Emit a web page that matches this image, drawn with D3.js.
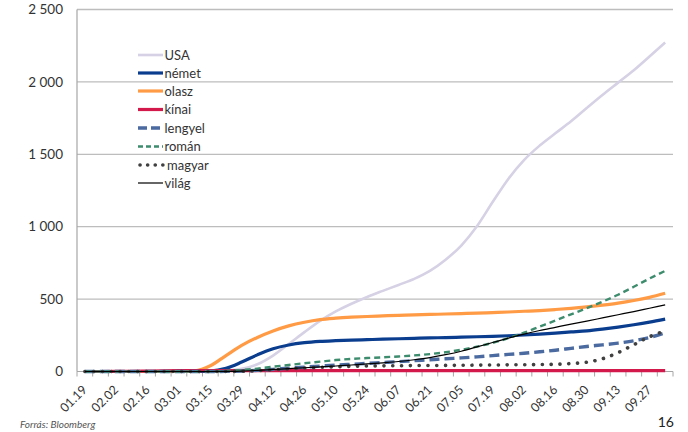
<!DOCTYPE html>
<html>
<head>
<meta charset="utf-8">
<script src="https://cdn.jsdelivr.net/npm/d3@7"></script>
<style>
  html, body { margin: 0; padding: 0; background: #fff; }
  svg { display: block; font-family: Lato, "Noto Sans", sans-serif; }
</style>
</head>
<body>
<svg id="chart" width="688" height="432"></svg>
<script>
// ---- data ----
const categories = ["01.19","01.26","02.02","02.09","02.16","02.23","03.01","03.08","03.15","03.22",
  "03.29","04.05","04.12","04.19","04.26","05.03","05.10","05.17","05.24","05.31",
  "06.07","06.14","06.21","06.28","07.05","07.12","07.19","07.26","08.02","08.09",
  "08.16","08.23","08.30","09.06","09.13","09.20","09.27","10.04"];
const xTickLabels = ["01.19","02.02","02.16","03.01","03.15","03.29","04.12","04.26","05.10","05.24",
  "06.07","06.21","07.05","07.19","08.02","08.16","08.30","09.13","09.27"];
const yTicks = [0, 500, 1000, 1500, 2000, 2500];

const usa     = [0,0,0,0,0,0,0,0,1,5,18,50,110,190,272,350,415,468,515,557,598,640,695,772,870,1003,1170,1330,1460,1560,1645,1728,1820,1910,1995,2080,2175,2272];
const nemet   = [0,0,0,0,0,0,0,0,3,22,65,115,157,183,199,208,213,217,220,223,226,229,232,234,237,240,243,247,252,258,265,273,281,293,307,323,341,362];
const olasz   = [0,0,0,0,0,0,0,5,40,110,180,235,280,315,340,358,368,375,380,384,388,391,394,397,400,403,407,411,416,421,428,436,446,458,472,490,512,540];
const kinai   = [0,0.1,0.5,1.5,3,4.5,5.5,5.8,5.8,5.9,5.9,5.9,5.9,6,6,6,6,6,6,6,6,6,6,6,6,6,6,6,6,6,6,6,6,6,6,6,6,6];
const lengyel = [0,0,0,0,0,0,0,0,0,1,3,8,15,23,30,37,44,50,56,62,68,75,81,88,94,101,110,118,126,136,147,160,173,184,196,212,235,268];
const roman   = [0,0,0,0,0,0,0,0,0,3,10,20,33,45,57,68,79,87,93,98,104,111,120,133,150,172,198,230,268,310,352,395,437,482,530,585,642,695];
const magyar  = [0,0,0,0,0,0,0,0,0,0,2,6,12,18,24,29,33,36,38,39,40,41,41,42,43,44,45,46,47,48,50,55,64,88,130,185,240,280];
const vilag   = [0,0,0,0,0,0,0,0,0,1,3,8,14,20,26,32,38,45,52,60,69,81,96,116,140,170,200,230,258,283,305,327,348,370,392,414,437,460];

const seriesNames = ["USA","német","olasz","kínai","lengyel","román","magyar","világ"];
const seriesData  = [usa, nemet, olasz, kinai, lengyel, roman, magyar, vilag];
const seriesStyle = [
  {color:"#d6d1e4", width:2.6, dash:null, cap:"butt"},
  {color:"#0b3d8f", width:3.2, dash:null, cap:"butt"},
  {color:"#ff9a45", width:3.2, dash:null, cap:"butt"},
  {color:"#d3194b", width:3.2, dash:null, cap:"butt"},
  {color:"#4a6aa0", width:3.4, dash:"10 5", cap:"butt"},
  {color:"#3d8c6e", width:2.4, dash:"6 4", cap:"butt"},
  {color:"#404040", width:3.6, dash:"0.1 8.7", cap:"round"},
  {color:"#000000", width:1.2, dash:null, cap:"butt"}
];

// ---- layout ----
const svg = d3.select("#chart");
svg.append("rect").attr("width",688).attr("height",432).attr("fill","#fff");

const mLeft = 77, mRight = 673, mTop = 9.5, mBottom = 371.5;
const x = d3.scaleBand().domain(categories).range([mLeft, mRight]).paddingInner(0).paddingOuter(0);
const y = d3.scaleLinear().domain([0, 2500]).range([mBottom, mTop]);
const fmt = d3.formatLocale({decimal: ",", thousands: "\u00a0", grouping: [3], currency: ["", ""]}).format(",d");

// gridlines
svg.append("g").selectAll("line").data(yTicks.filter(d => d > 0)).join("line")
  .attr("x1", mLeft).attr("x2", mRight)
  .attr("y1", d => y(d)).attr("y2", d => y(d))
  .attr("stroke", "#bdbdbd").attr("stroke-width", 1.3);

// y axis line
svg.append("line").attr("x1", mLeft).attr("x2", mLeft).attr("y1", mTop).attr("y2", mBottom)
  .attr("stroke", "#a6a6a6").attr("stroke-width", 1.2);

// y labels
svg.append("g").selectAll("text").data(yTicks).join("text")
  .attr("x", 63).attr("y", d => y(d)).attr("dy", "0.35em")
  .attr("text-anchor", "end").attr("font-size", 13.5).attr("fill", "#333")
  .text(d => fmt(d));

// x axis
svg.append("line").attr("x1", mLeft).attr("x2", mRight).attr("y1", mBottom).attr("y2", mBottom)
  .attr("stroke", "#a6a6a6").attr("stroke-width", 1.2);
const tickPos = categories.map(c => x(c)).concat([mRight]);
svg.append("g").selectAll("line").data(tickPos).join("line")
  .attr("x1", d => d).attr("x2", d => d).attr("y1", mBottom).attr("y2", mBottom + 5)
  .attr("stroke", "#a6a6a6").attr("stroke-width", 1);
svg.append("g").selectAll("text").data(xTickLabels).join("text")
  .attr("transform", d => `translate(${x(d) + x.bandwidth()/2 + 3},${mBottom + 19}) rotate(-45)`)
  .attr("text-anchor", "end").attr("font-size", 12.5).attr("fill", "#333")
  .text(d => d);

// lines
const line = d3.line()
  .x((d, i) => x(categories[i]) + x.bandwidth()/2)
  .y(d => y(d))
  .curve(d3.curveMonotoneX);

seriesData.forEach((s, k) => {
  const st = seriesStyle[k];
  svg.append("path").datum(s)
    .attr("d", line)
    .attr("fill", "none")
    .attr("stroke", st.color)
    .attr("stroke-width", st.width)
    .attr("stroke-linecap", st.cap)
    .attr("stroke-dasharray", st.dash);
});

// legend
const lg = svg.append("g");
const rowY = [55, 73, 91, 109.5, 128, 146.5, 165, 183];
seriesNames.forEach((n, k) => {
  const st = seriesStyle[k];
  const yy = rowY[k];
  lg.append("line")
    .attr("x1", k === 6 ? 140 : 138).attr("x2", 163).attr("y1", yy).attr("y2", yy)
    .attr("stroke", st.color).attr("stroke-width", st.width)
    .attr("stroke-linecap", st.cap)
    .attr("stroke-dasharray", k === 6 ? "0.1 7.5" : (k === 4 ? "9 4" : (k === 5 ? "5 3" : st.dash)));
  lg.append("text").attr("x", k === 6 ? 167 : 164.5).attr("y", yy).attr("dy", "0.35em")
    .attr("font-size", 13).attr("fill", "#333").text(n);
});

// footer
svg.append("text").attr("x", 20).attr("y", 428).attr("font-size", 10)
  .attr("font-style", "italic").attr("fill", "#555").text("Forrás: Bloomberg");
svg.append("text").attr("x", 674).attr("y", 427).attr("text-anchor", "end")
  .attr("font-size", 14).attr("fill", "#222").text("16");
</script>
</body>
</html>
